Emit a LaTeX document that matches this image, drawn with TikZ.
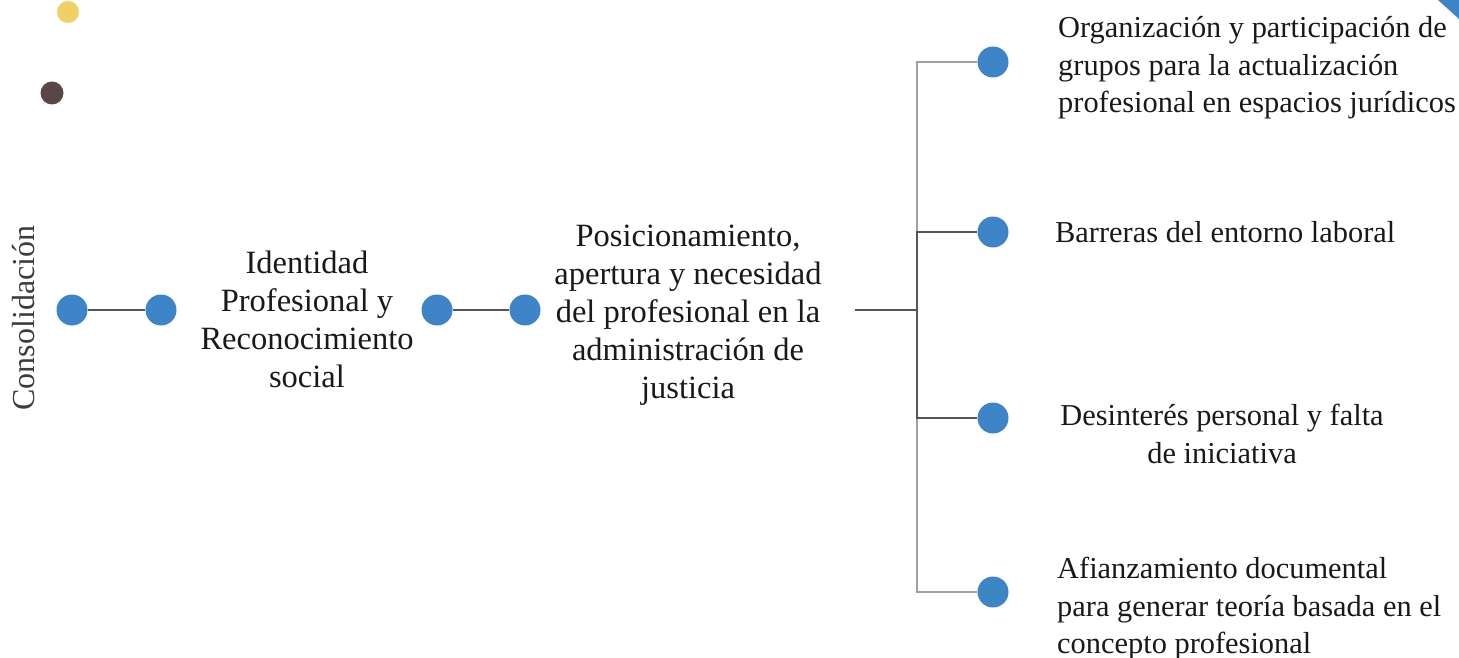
\documentclass[tikz,border=0pt]{standalone}
\usepackage{fontspec}
\setmainfont{Liberation Serif}
\definecolor{dotblue}{RGB}{61,133,198}
\definecolor{dotyellow}{RGB}{240,208,100}
\definecolor{dotdark}{RGB}{90,70,70}
\definecolor{textc}{RGB}{25,25,25}
\definecolor{lightln}{RGB}{160,160,160}
\definecolor{darkln}{RGB}{85,85,85}
\begin{document}
\begin{tikzpicture}[x=1pt,y=-1pt,
  dot/.style={circle,fill=dotblue,minimum size=31pt,inner sep=0pt},
  conn/.style={draw=darkln,line width=1.4pt},
  lconn/.style={draw=lightln,line width=1.4pt},
  bigtxt/.style={font=\fontsize{32.5}{38}\selectfont,text=textc,align=center,inner sep=0pt},
  smtxt/.style={font=\fontsize{30.4}{37.5}\selectfont,text=textc,inner sep=0pt}]
\useasboundingbox (0,0) rectangle (1459,658);
% decorative dots
\fill[dotyellow] (68,12) circle (11);
\fill[dotdark] (52,93) circle (11.5);
\fill[dotblue] (1438,0) -- (1459,0) -- (1459,19) -- cycle;
% vertical label
\node[smtxt,font=\fontsize{32}{38}\selectfont,text={rgb,255:red,60;green,60;blue,60},rotate=90] (cons) at (24,318) {Consolidación};
% dots on main line
\node[dot] (d1) at (72,310) {};
\node[dot] (d2) at (161,310) {};
\node[dot] (d3) at (437,310) {};
\node[dot] (d4) at (525,310) {};
\draw[conn] (d1) -- (d2);
\draw[conn] (d3) -- (d4);
% texts
\node[bigtxt] (t1) at (307,319) {Identidad\\Profesional y\\Reconocimiento\\social};
\node[bigtxt] (t2) at (688,315) {Posicionamiento,\\apertura y necesidad\\del profesional en la\\administración de\\justicia};
% right dots
\node[dot] (r1) at (993,62) {};
\node[dot] (r2) at (993,232) {};
\node[dot] (r3) at (993,418) {};
\node[dot] (r4) at (993,592) {};
\coordinate (j0) at (855,310);
\coordinate (j) at (917,310);
\draw[lconn] (j) |- (r1);
\draw[lconn] (j) |- (r4);
\draw[conn] (j) |- (r2);
\draw[conn] (j) |- (r3);
\draw[conn] (j0) -- (j);
% right texts
\node[smtxt,align=left,anchor=west] (s1) at (1058,68) {Organización y participación de\\grupos para la actualización\\profesional en espacios jurídicos};
\node[smtxt,align=left,anchor=west] (s2) at (1055,232) {Barreras del entorno laboral};
\node[smtxt,align=center] (s3) at (1222,434) {Desinterés personal y falta\\de iniciativa};
\node[smtxt,align=left,anchor=west] (s4) at (1057,609) {Afianzamiento documental\\para generar teoría basada en el\\concepto profesional};
\end{tikzpicture}
\end{document}
